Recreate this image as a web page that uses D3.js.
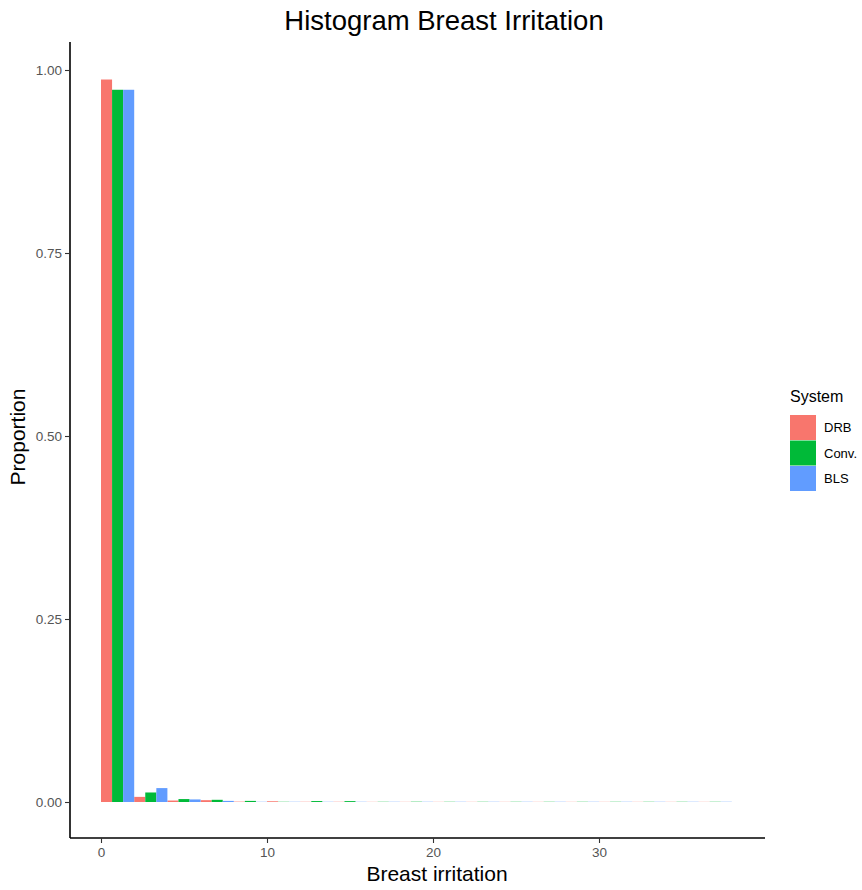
<!DOCTYPE html>
<html>
<head>
<meta charset="utf-8">
<script src="https://cdn.jsdelivr.net/npm/d3@7"></script>
<style>
  body { margin: 0; background: #fff; }
  svg text { font-family: "Liberation Sans", Arial, sans-serif; }
</style>
</head>
<body>
<svg width="862" height="890"></svg>
<script>
// bin starts (binwidth 2)
var binStarts = [0, 2, 4, 6, 8, 10, 12, 14, 16, 18, 20, 22, 24, 26, 28, 30, 32, 34, 36];
var systems = ["DRB", "Conv.", "BLS"];
var colors = ["#F8766D", "#00BA38", "#619CFF"];

// proportion per bin
var drb  = [0.987, 0.007, 0.002, 0.0025, 0.0005, 0.001, 0.0003, 0.0003, 0.0002, 0.0002, 0.0002, 0.0002, 0.0002, 0.0002, 0.0002, 0.0002, 0.0002, 0.0002, 0.0002];
var conv = [0.973, 0.013, 0.004, 0.003, 0.0015, 0.0003, 0.0013, 0.0012, 0.0003, 0.0004, 0.0003, 0.0003, 0.0003, 0.0003, 0.0003, 0.0003, 0.0003, 0.0003, 0.0003];
var bls  = [0.973, 0.019, 0.0035, 0.0015, 0.0003, 0.0003, 0.0003, 0.0003, 0.0003, 0.0003, 0.0003, 0.0003, 0.0003, 0.0003, 0.0003, 0.0003, 0.0003, 0.0003, 0.0003];
var series = [drb, conv, bls];

var xTicks = [0, 10, 20, 30];
var yTicks = [0, 0.25, 0.5, 0.75, 1.0];

var svg = d3.select("svg");

var x = d3.scaleLinear().domain([0, 10]).range([101, 267]);
var y = d3.scaleLinear().domain([0, 1]).range([802, 70]);

var panelLeft = 70, panelRight = 765, panelBottom = 838, panelTop = 42;

// bars, dodged inside each bin
var binW = 2;
series.forEach(function(vals, s) {
  svg.append("g")
    .selectAll("rect")
    .data(vals)
    .enter().append("rect")
      .attr("x", function(d, i) { return x(binStarts[i] + s * binW / 3); })
      .attr("width", function(d, i) { return x(binStarts[i] + binW / 3) - x(binStarts[i]); })
      .attr("y", function(d) { return y(d); })
      .attr("height", function(d) { return y(0) - y(d); })
      .style("fill", colors[s]);
});

// y axis
var yAxis = svg.append("g")
  .attr("transform", "translate(" + panelLeft + ",0)")
  .call(d3.axisLeft(y).tickValues(yTicks).tickFormat(d3.format(".2f")).tickSize(5).tickPadding(3).tickSizeOuter(0));
yAxis.select(".domain").attr("d", "M0," + panelTop + "V" + panelBottom).style("stroke", "#000").style("stroke-width", 1.6);

// x axis
var xAxis = svg.append("g")
  .attr("transform", "translate(0," + panelBottom + ")")
  .call(d3.axisBottom(x).tickValues(xTicks).tickFormat(d3.format("d")).tickSize(5).tickPadding(4).tickSizeOuter(0));
xAxis.select(".domain").attr("d", "M" + panelLeft + ",0H" + panelRight).style("stroke", "#000").style("stroke-width", 1.6);

svg.selectAll(".tick line").style("stroke", "#333").style("stroke-width", 1.1);
svg.selectAll(".tick text").style("fill", "#555").style("font-size", "13.5px");

// titles
svg.append("text")
  .attr("x", 444).attr("y", 30)
  .attr("text-anchor", "middle")
  .style("font-size", "27.5px")
  .text("Histogram Breast Irritation");

svg.append("text")
  .attr("x", 437).attr("y", 881)
  .attr("text-anchor", "middle")
  .style("font-size", "21px")
  .text("Breast irritation");

svg.append("text")
  .attr("transform", "translate(25,437) rotate(-90)")
  .attr("text-anchor", "middle")
  .style("font-size", "21px")
  .text("Proportion");

// legend
var legend = svg.append("g").attr("transform", "translate(790,402)");
legend.append("text")
  .attr("x", 0).attr("y", 0)
  .style("font-size", "16px")
  .text("System");

var keys = legend.selectAll("g.key")
  .data(systems)
  .enter().append("g")
  .attr("class", "key")
  .attr("transform", function(d, i) { return "translate(0," + (13 + i * 25.5) + ")"; });

keys.append("rect")
  .attr("width", 26).attr("height", 25)
  .style("fill", function(d, i) { return colors[i]; });

keys.append("text")
  .attr("x", 34).attr("y", 12.5)
  .attr("dy", ".35em")
  .style("font-size", "13px")
  .text(function(d) { return d; });
</script>
</body>
</html>
